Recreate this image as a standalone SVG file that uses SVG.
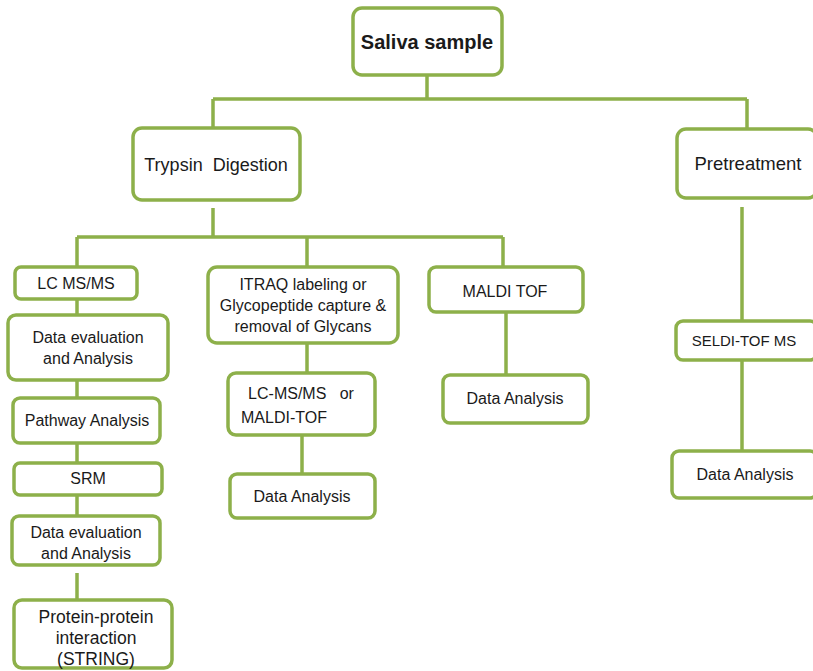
<svg xmlns="http://www.w3.org/2000/svg" width="813" height="671" viewBox="0 0 813 671">
<style>
.n rect{fill:#fff;stroke:#8db04a;stroke-width:3.5}
.c path{fill:none;stroke:#8db04a;stroke-width:3.5}
text{font-family:"Liberation Sans",Arial,sans-serif;font-size:16px;fill:#1a1a1a;text-anchor:middle}
.b{font-weight:bold;font-size:20px}
.l{font-size:18px}
</style>
<rect width="813" height="671" fill="#fff"/>
<g class="c">
<path d="M427 75V99M213 99H747M213 99V128M747 99V129"/>
<path d="M213 208V237M77 237H503M77 237V267M307 237V267M503 237V267"/>
<path d="M77 299V315M77 380V398M77 443V463M77 495V516M77 573V600"/>
<path d="M307 343V372M302 435V474M506 312V375"/>
<path d="M742 207V321M742 360V451"/>
</g>
<g class="n" id="saliva"><rect x="353" y="8" width="149" height="67" rx="9"/><text class="b" x="427" y="49">Saliva sample</text></g>
<g class="n" id="trypsin"><rect x="133" y="128" width="167" height="72" rx="9"/><text class="l" x="216" y="171" xml:space="preserve">Trypsin  Digestion</text></g>
<g class="n" id="pretreatment"><rect x="677" y="129" width="140" height="69" rx="9"/><text class="l" x="748" y="170" style="font-size:18.5px">Pretreatment</text></g>
<g class="n" id="lcmsms"><rect x="15" y="267" width="122" height="32" rx="6"/><text x="76" y="289">LC MS/MS</text></g>
<g class="n" id="eval1"><rect x="8" y="315" width="160" height="65" rx="8"/><text x="88" y="343">Data evaluation</text><text x="88" y="364">and Analysis</text></g>
<g class="n" id="pathway"><rect x="13" y="398" width="147" height="45" rx="7"/><text x="87" y="426">Pathway Analysis</text></g>
<g class="n" id="srm"><rect x="14" y="463" width="148" height="32" rx="6"/><text x="88" y="484">SRM</text></g>
<g class="n" id="eval2"><rect x="12" y="516" width="148" height="49" rx="7"/><text x="86" y="538">Data evaluation</text><text x="86" y="559">and Analysis</text></g>
<g class="n" id="ppi"><rect x="14" y="600" width="158" height="68" rx="8"/><text x="96" y="623" style="font-size:17.5px">Protein-protein</text><text x="96" y="644" style="font-size:17.5px">interaction</text><text x="96" y="665" style="font-size:17.5px">(STRING)</text></g>
<g class="n" id="itraq"><rect x="208" y="267" width="190" height="76" rx="9"/><text x="303" y="290">ITRAQ labeling or</text><text x="303" y="311">Glycopeptide capture &amp;</text><text x="303" y="332">removal of Glycans</text></g>
<g class="n" id="lcmaldi"><rect x="228" y="373" width="147" height="62" rx="8"/><text x="301" y="399" xml:space="preserve">LC-MS/MS   or</text><text x="284" y="423">MALDI-TOF</text></g>
<g class="n" id="da1"><rect x="230" y="474" width="145" height="44" rx="7"/><text x="302" y="502">Data Analysis</text></g>
<g class="n" id="maldi"><rect x="429" y="267" width="154" height="45" rx="7"/><text x="505" y="297">MALDI TOF</text></g>
<g class="n" id="da2"><rect x="443" y="375" width="145" height="48" rx="7"/><text x="515" y="404">Data Analysis</text></g>
<g class="n" id="seldi"><rect x="676" y="321" width="141" height="39" rx="7"/><text x="744" y="346" style="font-size:15px">SELDI-TOF MS</text></g>
<g class="n" id="da3"><rect x="672" y="451" width="145" height="47" rx="7"/><text x="745" y="480">Data Analysis</text></g>
</svg>
